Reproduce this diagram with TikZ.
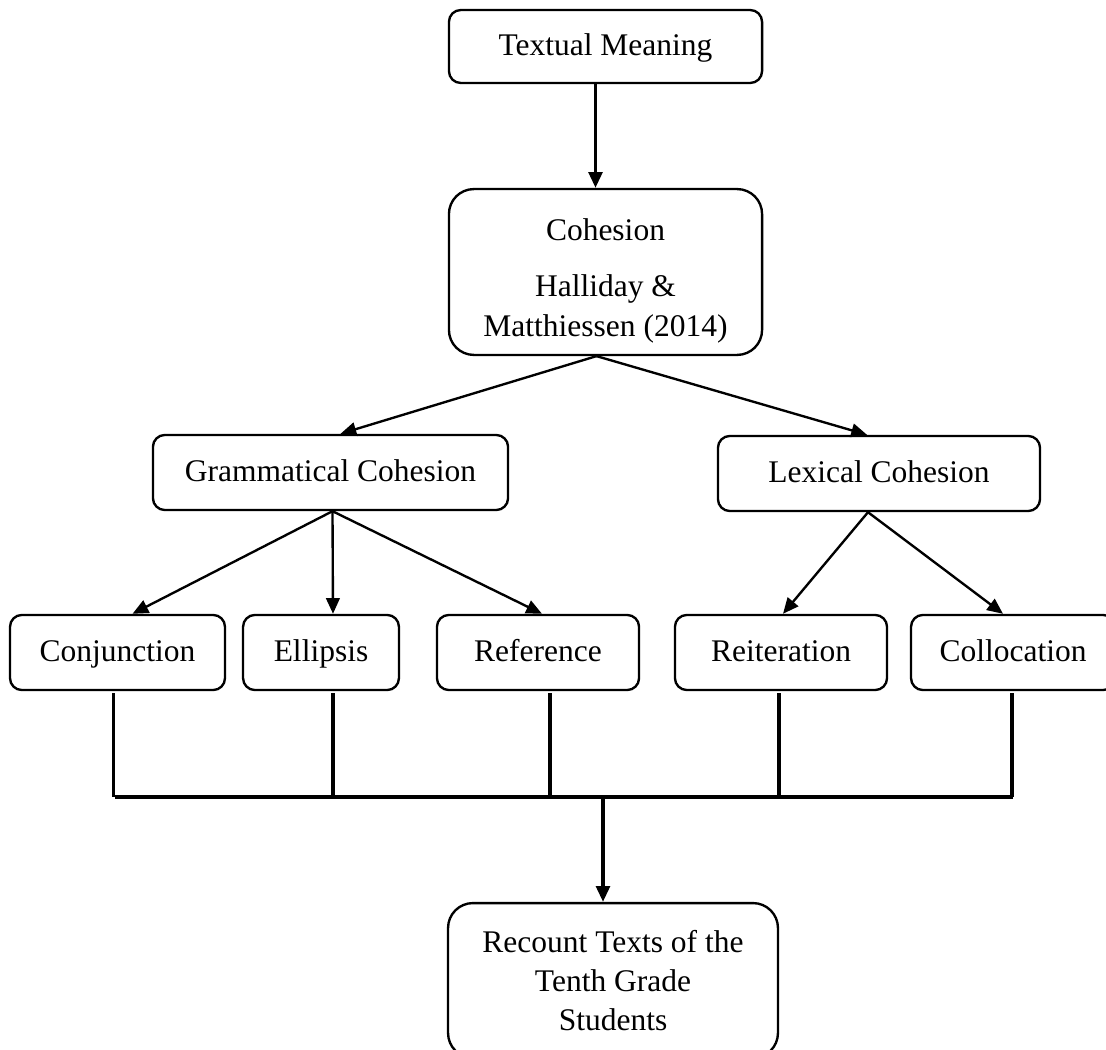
\documentclass[tikz,border=0pt]{standalone}
\usepackage{fontspec}
\setmainfont{Liberation Serif}
\usetikzlibrary{arrows.meta,calc}
\tikzset{
  box/.style={draw=black, line width=0.9pt, rounded corners=4.5pt, fill=white,
    minimum height=28.6pt, align=center, inner sep=2pt,
    font=\fontsize{12}{15}\selectfont},
  onebox/.style={box, text height=9.8pt, text depth=2.6pt},
  bigbox/.style={box, rounded corners=9.5pt},
  flow/.style={-{Triangle[length=6pt,width=5.2pt]}, line width=0.9pt},
  mflow/.style={flow, line width=1.3pt},
  drop/.style={line width=1.3pt},
  bar/.style={line width=1.9pt}
}

\begin{document}
\begin{tikzpicture}[x=0.381pt, y=-0.381pt]
  \useasboundingbox (0,0) rectangle (1106,1050);

  \node[onebox, minimum width=119.3pt, minimum height=27.8pt] (textual) at (605.5,46.5)
    {Textual Meaning};
  \node[bigbox, minimum width=119.3pt, minimum height=63.2pt] (cohesion) at (605.5,272)
    {\rule{0pt}{15pt}Cohesion\\[6.5pt]Halliday \&\\Matthiessen (2014)};

  \node[onebox, minimum width=135.3pt] (gram) at (330.5,472.5) {Grammatical Cohesion};
  \node[onebox, minimum width=122.7pt] (lex) at (879,473.5) {Lexical Cohesion};

  \node[onebox, minimum width=81.9pt] (conj) at (117.5,652.5) {Conjunction};
  \node[onebox, minimum width=59.4pt] (ellip) at (321,652.5) {Ellipsis};
  \node[onebox, minimum width=77pt] (ref) at (538,652.5) {Reference};
  \node[onebox, minimum width=80.8pt] (reit) at (781,652.5) {Reiteration};
  \node[onebox, minimum width=77.7pt] (coll) at (1013,652.5) {Collocation};

  \node[bigbox, minimum width=125.7pt, minimum height=59pt] (recount) at (613,980.5)
    {Recount Texts of the\\Tenth Grade\\Students};

  \draw[mflow] ($(textual.south)+(-10,0)$) -- ($(cohesion.north)+(-10,0)$);
  \coordinate (cs) at ($(cohesion.south)+(-9,0)$);
  \draw[flow] (cs) -- ($(gram.north)+(10,0)$);
  \draw[flow] (cs) -- ($(lex.north)+(-12,0)$);

  \draw[flow] ($(gram.south)+(2,0)$) -- ($(conj.north)+(15,0)$);
  \draw[flow] ($(gram.south)+(2,0)$) -- ($(ellip.north)+(12,0)$);
  \draw[flow] ($(gram.south)+(2,0)$) -- ($(ref.north)+(4,0)$);
  \draw[flow] ($(lex.south)+(-11,0)$) -- ($(reit.north)+(2,0)$);
  \draw[flow] ($(lex.south)+(-11,0)$) -- ($(coll.north)+(-10,0)$);

  \coordinate (busl) at (115,797);
  \coordinate (busr) at (1013,797);
  \coordinate (hub) at (603,797);
  \foreach \n/\dx in {conj/-4, ellip/12, ref/12, reit/-2, coll/-1}
    \draw[drop] ($(\n.south)+(\dx,2)$) coordinate (top) -- (top |- busl);
  \draw[bar] (busl) -- (busr);
  \draw[mflow] (hub) -- (hub |- recount.north);
\end{tikzpicture}
\end{document}
